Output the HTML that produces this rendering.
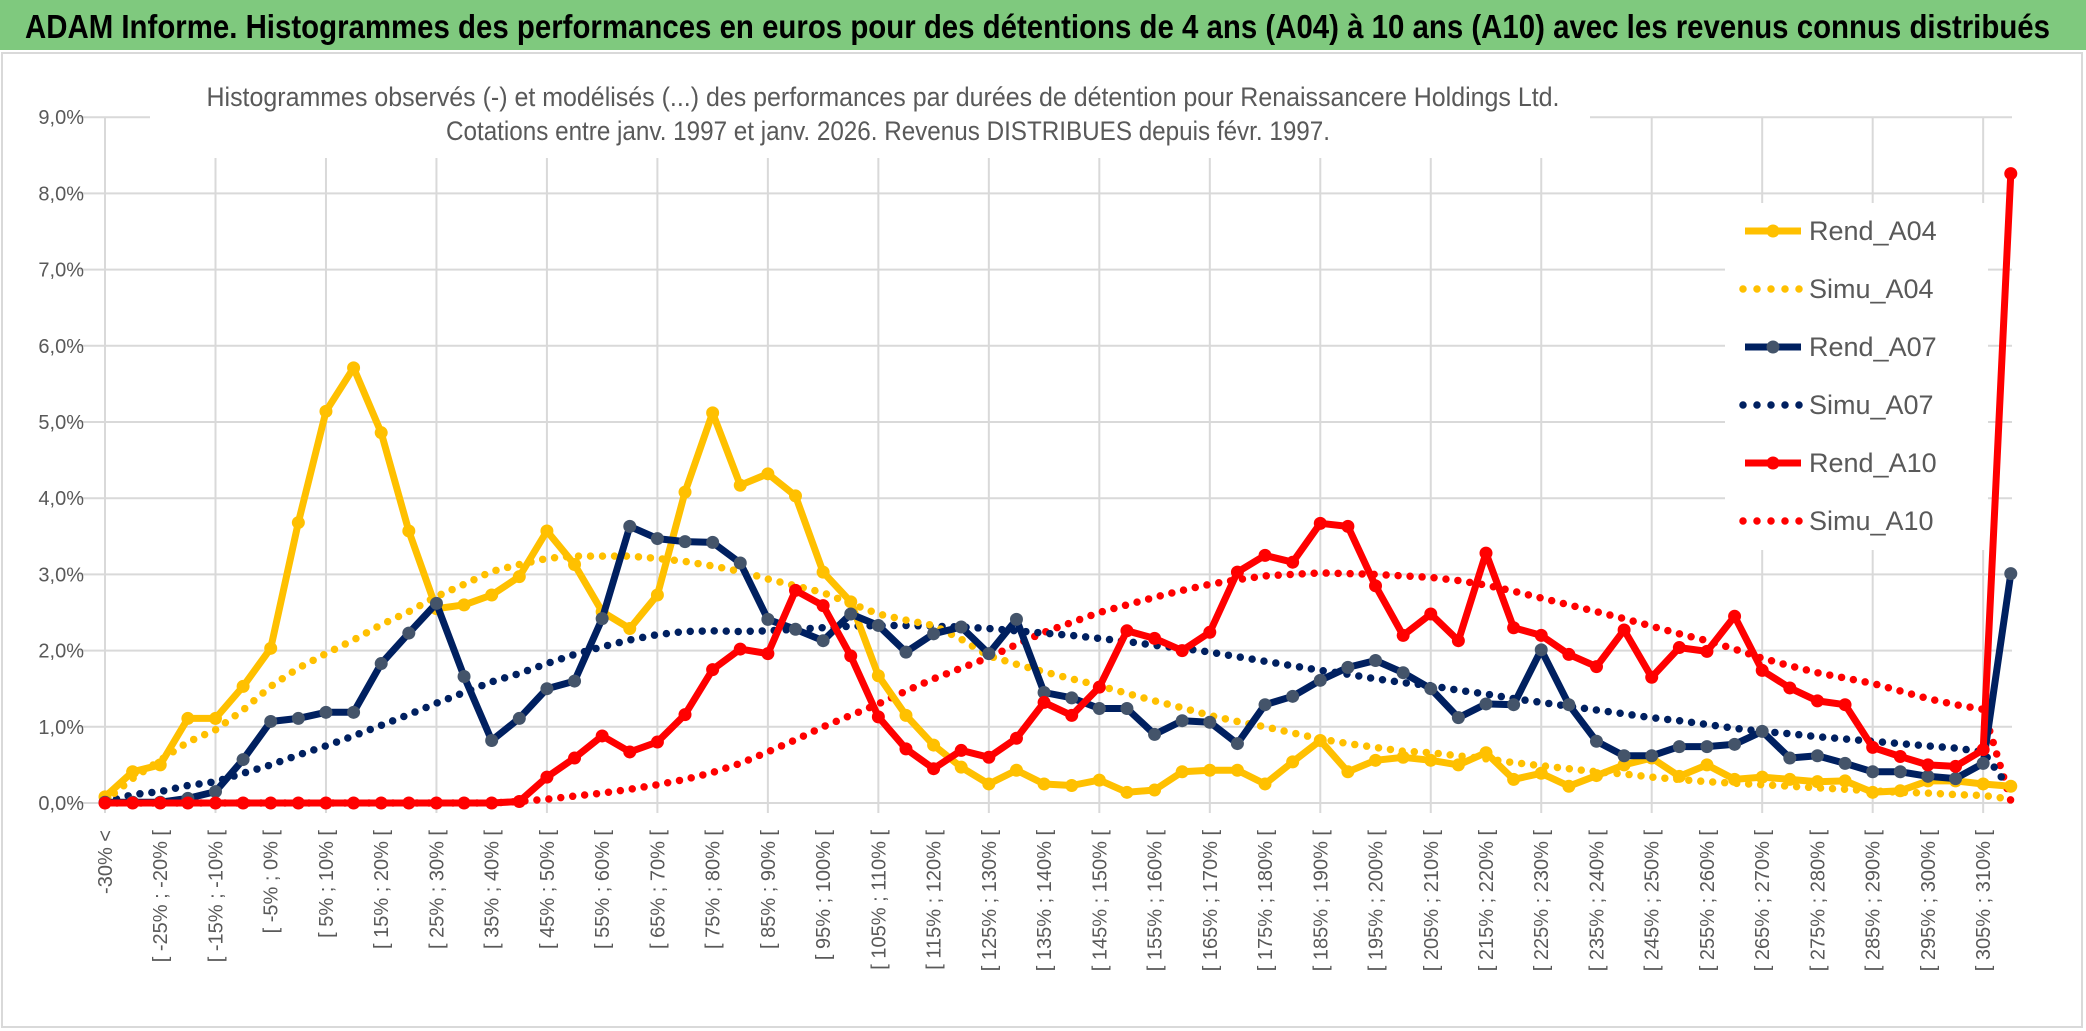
<!DOCTYPE html>
<html><head><meta charset="utf-8"><style>
html,body{margin:0;padding:0;background:#fff;}
svg{display:block;font-family:"Liberation Sans Narrow","Liberation Sans",sans-serif;}
</style></head><body>
<svg id="chart" width="2086" height="1031" viewBox="0 0 2086 1031" xmlns="http://www.w3.org/2000/svg">
<rect x="0" y="0" width="2086" height="1031" fill="#fff"/>
<rect x="0" y="0" width="2086" height="50" fill="#7fc97e"/>
<text x="25" y="38" font-size="33" font-weight="bold" fill="#000" textLength="2025" lengthAdjust="spacingAndGlyphs">ADAM Informe. Histogrammes des performances en euros pour des détentions de 4 ans (A04) à 10 ans (A10) avec les revenus connus distribués</text>
<rect x="2" y="53" width="2080" height="974" fill="none" stroke="#d9d9d9" stroke-width="2"/>
<g id="grid"></g>
<rect x="150" y="62" width="1440" height="96" fill="#fff"/>
<rect x="1725" y="203" width="263" height="347" fill="#fff"/>
<text x="883" y="106" font-size="27" fill="#595959" text-anchor="middle" textLength="1353" lengthAdjust="spacingAndGlyphs">Histogrammes observés (-) et modélisés (...) des performances par durées de détention pour Renaissancere Holdings Ltd.</text>
<text x="888" y="140" font-size="27" fill="#595959" text-anchor="middle" textLength="884" lengthAdjust="spacingAndGlyphs">Cotations entre janv. 1997 et janv. 2026. Revenus DISTRIBUES depuis févr. 1997.</text>
<g id="ylabels"></g>
<g id="xlabels"></g>
<g id="series"></g>
<g id="legend"></g>
</svg>
<script>
const categories = (function(){ const c=["-30% <"]; for(let k=1;k<70;k++){ c.push("[ "+(-35+5*k)+"% ; "+(-30+5*k)+"% ["); } return c; })();
const yTicks = [0,1,2,3,4,5,6,7,8,9];
const rendA04 = [0.08,0.41,0.50,1.11,1.11,1.53,2.03,3.68,5.14,5.71,4.86,3.57,2.55,2.60,2.73,2.97,3.57,3.13,2.51,2.29,2.73,4.08,5.12,4.17,4.32,4.03,3.03,2.64,1.67,1.15,0.76,0.47,0.25,0.43,0.25,0.23,0.30,0.14,0.17,0.41,0.43,0.43,0.25,0.54,0.82,0.41,0.56,0.60,0.56,0.50,0.66,0.31,0.39,0.22,0.36,0.50,0.59,0.35,0.50,0.31,0.34,0.31,0.28,0.29,0.14,0.16,0.29,0.29,0.25,0.22];
const simuA04 = [0.03,0.32,0.56,0.80,0.96,1.22,1.53,1.77,1.96,2.14,2.34,2.51,2.71,2.87,3.04,3.13,3.21,3.24,3.24,3.24,3.21,3.17,3.11,3.04,2.94,2.85,2.76,2.62,2.48,2.40,2.33,2.15,1.93,1.82,1.72,1.63,1.54,1.44,1.34,1.25,1.15,1.07,1.00,0.92,0.84,0.78,0.73,0.68,0.66,0.62,0.58,0.53,0.49,0.45,0.41,0.38,0.34,0.31,0.28,0.26,0.24,0.22,0.20,0.18,0.16,0.14,0.13,0.11,0.10,0.05];
const rendA07 = [0.01,0.01,0.01,0.06,0.15,0.57,1.07,1.11,1.19,1.19,1.83,2.23,2.62,1.66,0.82,1.11,1.50,1.60,2.42,3.63,3.47,3.43,3.42,3.15,2.41,2.28,2.13,2.48,2.33,1.98,2.22,2.31,1.96,2.41,1.45,1.38,1.24,1.24,0.90,1.08,1.06,0.78,1.29,1.40,1.61,1.78,1.87,1.71,1.50,1.12,1.30,1.29,2.01,1.29,0.81,0.62,0.62,0.74,0.74,0.77,0.94,0.59,0.62,0.52,0.41,0.41,0.35,0.32,0.52,3.01];
const simuA07 = [0.01,0.11,0.15,0.23,0.28,0.39,0.50,0.63,0.75,0.88,1.02,1.16,1.31,1.45,1.59,1.70,1.83,1.95,2.05,2.14,2.21,2.25,2.26,2.25,2.26,2.28,2.30,2.32,2.33,2.33,2.32,2.31,2.29,2.26,2.23,2.20,2.16,2.12,2.07,2.03,1.98,1.92,1.86,1.80,1.74,1.69,1.63,1.58,1.54,1.48,1.43,1.37,1.32,1.27,1.22,1.17,1.12,1.08,1.03,0.98,0.94,0.91,0.87,0.84,0.81,0.78,0.75,0.72,0.67,0.17];
const rendA10 = [0,0,0,0,0,0,0,0,0,0,0,0,0,0,0,0.02,0.34,0.59,0.88,0.67,0.80,1.16,1.75,2.02,1.96,2.79,2.59,1.93,1.13,0.71,0.45,0.69,0.60,0.85,1.32,1.15,1.52,2.26,2.16,2.00,2.24,3.03,3.25,3.16,3.67,3.63,2.85,2.20,2.48,2.13,3.28,2.30,2.20,1.95,1.79,2.27,1.65,2.04,1.99,2.45,1.74,1.51,1.34,1.29,0.73,0.61,0.50,0.48,0.70,8.26];
const simuA10 = [0,0,0,0,0,0,0,0,0,0,0,0,0,0,0,0.02,0.05,0.09,0.13,0.18,0.24,0.31,0.40,0.52,0.67,0.83,1.00,1.15,1.30,1.47,1.63,1.77,1.91,2.08,2.24,2.37,2.50,2.60,2.70,2.79,2.87,2.93,2.98,3.00,3.02,3.01,3.00,2.98,2.96,2.92,2.86,2.78,2.69,2.60,2.51,2.42,2.32,2.22,2.13,2.02,1.90,1.80,1.71,1.64,1.57,1.47,1.37,1.29,1.23,0.03];
const seriesNames = ["Rend_A04","Simu_A04","Rend_A07","Simu_A07","Rend_A10","Simu_A10"];

const NS="http://www.w3.org/2000/svg";
const X0=105, DX=27.62, Y0=803, DY=76.2;
function xPos(i){ return X0 + DX*i; }
function yPos(v){ return Y0 - DY*v; }
function mk(tag, attrs, parent){ const e=document.createElementNS(NS,tag); for(const k in attrs) e.setAttribute(k, attrs[k]); parent.appendChild(e); return e; }

const grid=document.getElementById('grid');
yTicks.forEach(t=>{
  const l=mk('line',{x1:xPos(0)-25,x2:2012,y1:yPos(t),y2:yPos(t),stroke:'#d9d9d9','stroke-width':2},grid);
  
  
});
for(let i=0;i<categories.length;i+=4){
  const l=mk('line',{x1:xPos(i),x2:xPos(i),y1:yPos(9),y2:yPos(0)+10,stroke:'#d9d9d9','stroke-width':2},grid);
  
  
}
const yl=document.getElementById('ylabels');
yTicks.forEach(t=>{
  const e=mk('text',{x:84,y:yPos(t)+7,'font-size':20,fill:'#595959','text-anchor':'end'},yl);
  e.textContent=t.toFixed(1).replace('.',',')+'%';
  
  
});
const xl=document.getElementById('xlabels');
for(let i=0;i<categories.length;i+=2){
  const x=xPos(i)+7, y=830;
  const e=mk('text',{x:x,y:y,'font-size':20,fill:'#595959','text-anchor':'end',transform:'rotate(-90 '+x+' '+y+')'},xl);
  e.textContent=categories[i];
  
  
}
const sg=document.getElementById('series');
function pathOf(vals){ return vals.map((v,i)=>(i?'L':'M')+xPos(i).toFixed(1)+' '+yPos(v).toFixed(1)).join(' '); }
function dotted(vals,color,name){
  const p=mk('path',{d:pathOf(vals),fill:'none',stroke:color,'stroke-width':7.5,'stroke-linecap':'round','stroke-dasharray':'0 12'},sg);
  
  
}
function solid(vals,color,mcolor,name){
  const p=mk('path',{d:pathOf(vals),fill:'none',stroke:color,'stroke-width':7,'stroke-linejoin':'round'},sg);
  
  
  vals.forEach((v,i)=>{
    const c=mk('circle',{cx:xPos(i),cy:yPos(v),r:6.5,fill:mcolor},sg);
    
    
  });
}
dotted(simuA10,'#ff0000','simu-a10-line');
dotted(simuA07,'#002060','simu-a07-line');
dotted(simuA04,'#ffc000','simu-a04-line');
solid(rendA04,'#ffc000','#ffc000','rend-a04-line');
solid(rendA07,'#002060','#44546a','rend-a07-line');
solid(rendA10,'#ff0000','#ff0000','rend-a10-line');

const lg=document.getElementById('legend');
const lcolors=['#ffc000','#ffc000','#002060','#002060','#ff0000','#ff0000'];
const lmark=['#ffc000',null,'#44546a',null,'#ff0000',null];
seriesNames.forEach((n,k)=>{
  const y=240+58*k, cy=y-9;
  const g=mk('g',{},lg);
  
  
  if(k%2===0){
    mk('line',{x1:1745,x2:1801,y1:cy,y2:cy,stroke:lcolors[k],'stroke-width':7},g);
    mk('circle',{cx:1773,cy:cy,r:6.5,fill:lmark[k]},g);
  } else {
    mk('line',{x1:1743,x2:1800,y1:cy,y2:cy,stroke:lcolors[k],'stroke-width':7.5,'stroke-linecap':'round','stroke-dasharray':'0 14'},g);
  }
  const t=mk('text',{x:1809,y:y,'font-size':27,fill:'#595959'},g);
  t.textContent=n;
});
</script>
</body></html>
